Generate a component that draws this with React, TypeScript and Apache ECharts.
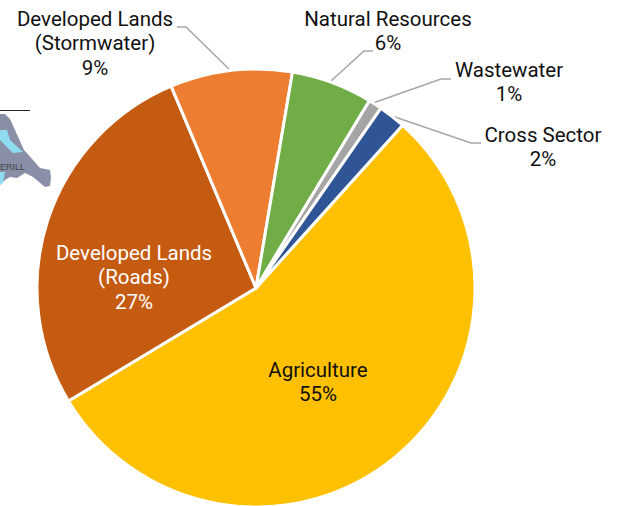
import React, { useEffect, useRef } from "react";
import * as echarts from "echarts";

const categories = [
  "Agriculture",
  "Developed Lands\n(Roads)",
  "Developed Lands\n(Stormwater)",
  "Natural Resources",
  "Wastewater",
  "Cross Sector",
];
const shares = [54.7, 27.3, 9, 6, 1, 2];
const colors = ["#FFC000", "#C55A11", "#ED7D31", "#70AD47", "#A5A5A5", "#2F5597"];
const labelColors = ["#111111", "#FFFFFF", "#111111", "#111111", "#111111", "#111111"];
const labelCentres = [
  [318, 382],
  [134, 277],
  [95, 43],
  [388, 31],
  [509, 82],
  [543, 147],
];
const leaderLines: (number[][] | null)[] = [
  null,
  null,
  [[231, 71], [186, 27], [177, 27]],
  [[331, 81], [364, 51], [373, 51]],
  [[373, 103], [441, 79], [451, 79]],
  [[392, 116], [471, 143], [481, 143]],
];

export default function App() {
  const ref = useRef<HTMLDivElement>(null);
  useEffect(() => {
    const chart = echarts.init(ref.current!, null, { renderer: "svg" });
    chart.setOption({
      animation: false,
      backgroundColor: "#FFFFFF",
      graphic: [
        {
          type: "polygon",
          shape: {
            points: [[0, 114], [5, 114], [10, 119], [15, 130], [24, 150], [33, 160], [40, 168], [50, 170], [51, 178], [50, 186], [45, 187], [33, 177], [25, 173], [17, 178], [10, 177], [5, 180], [0, 185]],
          },
          style: { fill: "#8A8FA8" },
        },
        {
          type: "polygon",
          shape: { points: [[0, 130], [7, 130], [10, 140], [23, 152], [13, 153], [0, 140]] },
          style: { fill: "#8FDCF0" },
        },
        {
          type: "polygon",
          shape: { points: [[0, 172], [5, 172], [3, 183], [0, 185]] },
          style: { fill: "#8FDCF0" },
        },
        {
          type: "line",
          shape: { x1: 0, y1: 110.5, x2: 30, y2: 110.5 },
          style: { stroke: "#222222", lineWidth: 1 },
        },
        {
          type: "text",
          x: 0,
          y: 162,
          style: { text: "ERILL", fill: "#444444", font: "9px 'Liberation Sans'" },
        },
      ],
      series: [
        {
          type: "pie",
          center: [256, 288],
          radius: [0, 219],
          startAngle: 48,
          clockwise: true,
          percentPrecision: 0,
          avoidLabelOverlap: false,
          itemStyle: { borderColor: "#FFFFFF", borderWidth: 3 },
          label: {
            show: true,
            position: "outside",
            formatter: "{b}\n{d}%",
            fontFamily: "Roboto",
            fontSize: 20.5,
            lineHeight: 24.5,
            align: "center",
            verticalAlign: "middle",
          },
          labelLine: { show: true, lineStyle: { color: "#A6A6A6", width: 1.5 } },
          labelLayout: (p: any) => {
            const i = p.dataIndex;
            const out: any = {
              x: labelCentres[i][0],
              y: labelCentres[i][1],
              align: "center",
              verticalAlign: "middle",
            };
            if (leaderLines[i]) out.labelLinePoints = leaderLines[i];
            return out;
          },
          data: categories.map((name, i) => ({
            name,
            value: shares[i],
            itemStyle: { color: colors[i] },
            label: { color: labelColors[i] },
            labelLine: { show: leaderLines[i] !== null },
          })),
        },
      ],
    });
    return () => chart.dispose();
  }, []);
  return <div ref={ref} style={{ position: "absolute", left: 0, top: 0, width: 619, height: 506 }} />;
}
